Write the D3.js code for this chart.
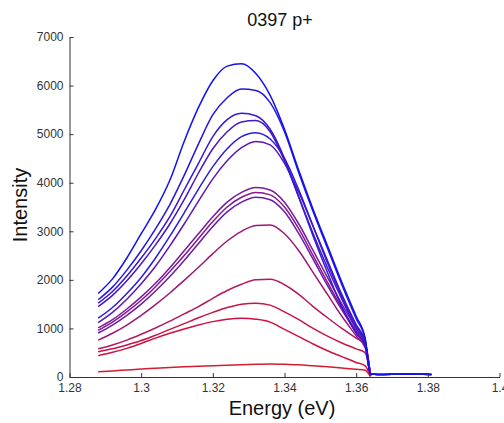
<!DOCTYPE html>
<html>
<head>
<meta charset="utf-8">
<script src="https://cdn.jsdelivr.net/npm/d3@7"></script>
<style>
    body { margin: 0; background: #fff; }
    svg { display: block; font-family: "Liberation Sans", Arial, sans-serif; }
    .axis path, .axis line { stroke: #333; }
    .axis text { fill: #333; font-size: 12px; }
    .axis-label { font-size: 20px; fill: #111; }
</style>
</head>
<body>
<div id="chart"></div>
<script>
const energy = [1.288, 1.292, 1.296, 1.300, 1.304, 1.308, 1.312, 1.316, 1.320, 1.324, 1.328,
    1.332, 1.336, 1.340, 1.344, 1.348, 1.352, 1.356, 1.360, 1.3625, 1.364, 1.366, 1.374, 1.381];

// intensity curves, top (blue) to bottom (red); null = no data
const curveA = [1720, 2020, 2450, 2950, 3450, 4050, 4850, 5550, 6100, 6400, 6450, 6250, 5800, 5100, 4250, 3450, 2700, 1950, 1250, 800, 60, 50, 60, 50];
const curveB = [1590, 1850, 2200, 2600, 3050, 3550, 4150, 4800, 5400, 5750, 5930, 5900, 5650, 5050, 4200, 3400, 2650, 1900, 1200, 780, 60, 50, 60, 50];
const curveC = [1520, 1760, 2080, 2450, 2850, 3300, 3850, 4400, 4950, 5300, 5430, 5380, 5100, 4500, 3700, 2900, 2150, 1450, 900, 650, 60, 50, 60, 50];
const curveD = [1450, 1680, 1980, 2330, 2720, 3150, 3650, 4200, 4700, 5050, 5250, 5280, 5050, 4450, 3700, 2950, 2250, 1600, 1000, 700, 60, 50, 60, 50];
const curveE = [1210, 1430, 1720, 2050, 2450, 2900, 3380, 3870, 4330, 4700, 4950, 5030, 4900, 4500, 3850, 3100, 2350, 1650, 1050, 720, 60, 50, 60, 50];
const curveF = [1120, 1330, 1600, 1920, 2280, 2700, 3150, 3620, 4080, 4450, 4720, 4850, 4780, 4400, 3800, 3100, 2400, 1700, 1080, 740, 30, null, null, null];
const curveG = [1010, 1180, 1400, 1650, 1930, 2250, 2600, 2950, 3300, 3600, 3800, 3900, 3850, 3600, 3150, 2600, 2050, 1500, 1000, 700, 30, null, null, null];
const curveH = [960, 1130, 1340, 1580, 1860, 2170, 2500, 2850, 3200, 3500, 3700, 3800, 3750, 3500, 3050, 2500, 1950, 1420, 950, 680, 30, null, null, null];
const curveI = [905, 1070, 1270, 1500, 1770, 2070, 2400, 2750, 3100, 3400, 3600, 3700, 3650, 3400, 2950, 2420, 1880, 1380, 920, 660, 30, null, null, null];
const curveJ = [760, 900, 1070, 1270, 1490, 1730, 1990, 2260, 2540, 2800, 3000, 3120, 3130, 2950, 2600, 2150, 1700, 1250, 850, 600, 30, null, null, null];
const curveK = [580, 660, 760, 880, 1010, 1150, 1300, 1450, 1620, 1780, 1910, 2000, 2010, 1900, 1700, 1450, 1220, 1000, 800, 680, 30, null, null, null];
const curveL = [520, 580, 660, 750, 860, 980, 1100, 1220, 1330, 1430, 1500, 1520, 1480, 1340, 1180, 1000, 840, 700, 580, 500, 20, null, null, null];
const curveM = [440, 510, 590, 690, 800, 900, 990, 1070, 1140, 1190, 1210, 1190, 1130, 980, 830, 680, 540, 420, 300, 230, 20, null, null, null];
const curveN = [110, 125, 145, 165, 180, 195, 210, 220, 230, 240, 250, 260, 270, 260, 250, 230, 210, 185, 160, 140, 10, null, null, null];

const curves = [curveA, curveB, curveC, curveD, curveE, curveF, curveG,
    curveH, curveI, curveJ, curveK, curveL, curveM, curveN];
const curveColors = ["#1212f0", "#2416e0", "#3418d4", "#4816c6", "#2a1ce0", "#5a18b6", "#7a1a9c",
    "#861890", "#6c1aa8", "#9c1878", "#b4185e", "#c81448", "#d0103e", "#d41c30"];

const xTicks = [1.28, 1.3, 1.32, 1.34, 1.36, 1.38, 1.4];
const yTicks = [0, 1000, 2000, 3000, 4000, 5000, 6000, 7000];

const width = 504, height = 423;
const margin = { top: 37, right: 4.5, bottom: 46, left: 69.5 };
const innerWidth = width - margin.left - margin.right;
const innerHeight = height - margin.top - margin.bottom;

const svg = d3.select("#chart")
    .append("svg")
    .attr("width", width)
    .attr("height", height);

const inner = svg.append("g")
    .attr("transform", `translate(${margin.left},${margin.top})`);

// scales
const xScale = d3.scaleLinear().domain([1.28, 1.4]).range([0, innerWidth]);
const yScale = d3.scaleLinear().domain([0, 7000]).range([innerHeight, 0]);

// lines, drawn red first so blue sits on top
const line = d3.line()
    .defined(d => d[1] !== null)
    .x(d => xScale(d[0]))
    .y(d => yScale(d[1]))
    .curve(d3.curveMonotoneX);

const order = d3.range(curves.length).reverse();
inner.selectAll("path.curve")
    .data(order)
    .join("path")
    .attr("class", "curve")
    .attr("fill", "none")
    .attr("stroke", i => curveColors[i])
    .attr("stroke-width", 1.5)
    .attr("stroke-linejoin", "round")
    .attr("d", i => line(energy.map((e, k) => [e, curves[i][k]])));

// x-axis
inner.append("g")
    .attr("class", "axis")
    .attr("transform", `translate(0,${innerHeight})`)
    .call(d3.axisBottom(xScale).tickValues(xTicks).tickFormat(d => String(d))
        .tickSizeInner(-4).tickSizeOuter(0).tickPadding(6));

// y-axis
inner.append("g")
    .attr("class", "axis")
    .call(d3.axisLeft(yScale).tickValues(yTicks).tickFormat(d => String(d))
        .tickSizeInner(-4).tickSizeOuter(0).tickPadding(6));

// title
svg.append("text")
    .attr("x", 280)
    .attr("y", 26)
    .attr("text-anchor", "middle")
    .attr("font-size", "18px")
    .attr("fill", "#111")
    .text("0397 p+");

// x label
svg.append("text")
    .attr("class", "axis-label")
    .attr("x", 282)
    .attr("y", 415)
    .attr("text-anchor", "middle")
    .text("Energy (eV)");

// y label
svg.append("text")
    .attr("class", "axis-label")
    .attr("transform", "rotate(-90)")
    .attr("x", -205)
    .attr("y", 27)
    .attr("text-anchor", "middle")
    .text("Intensity");
</script>
</body>
</html>
